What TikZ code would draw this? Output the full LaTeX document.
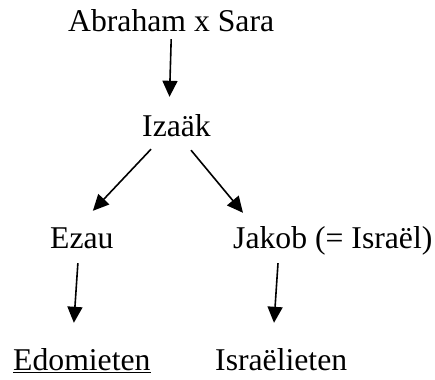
\documentclass[tikz,border=0pt]{standalone}
\usepackage{fontspec}
\setmainfont{Liberation Serif}
\usetikzlibrary{arrows.meta}
\begin{document}
\begin{tikzpicture}[x=1pt,y=-1pt,
  lbl/.style={inner sep=0pt, anchor=base west, text height=22pt, text depth=7pt,
    font=\fontsize{31.7}{38}\selectfont},
  arr/.style={line width=1.6pt, -{Triangle[length=16pt,width=15pt]}}]
\useasboundingbox (0,0) rectangle (435,379);
\node[lbl] (abr) at (68,32) {Abraham x Sara};
\node[lbl] (iza) at (142,137) {Izaäk};
\node[lbl] (eza) at (50,248) {Ezau};
\node[lbl] (jak) at (233,248) {Jakob (= Israël)};
\node[lbl] (edo) at (13,370) {\underline{Edomieten}};
\node[lbl] (isr) at (215,370) {Israëlieten};
\draw[arr] (abr.south) -- ([xshift=-7pt,yshift=18pt]iza.north);
\draw[arr] ([xshift=9pt,yshift=-5pt]iza.south west) -- ([xshift=11pt,yshift=15pt]eza.north);
\draw[arr] ([xshift=-20pt,yshift=-6pt]iza.south east) -- ([xshift=10pt,yshift=13pt]jak.north west);
\draw[arr] ([xshift=-4pt,yshift=-8pt]eza.south) -- ([xshift=-8pt,yshift=25pt]edo.north);
\draw[arr] ([xshift=45pt,yshift=-8pt]jak.south west) -- ([xshift=59pt,yshift=25pt]isr.north west);
\end{tikzpicture}
\end{document}
